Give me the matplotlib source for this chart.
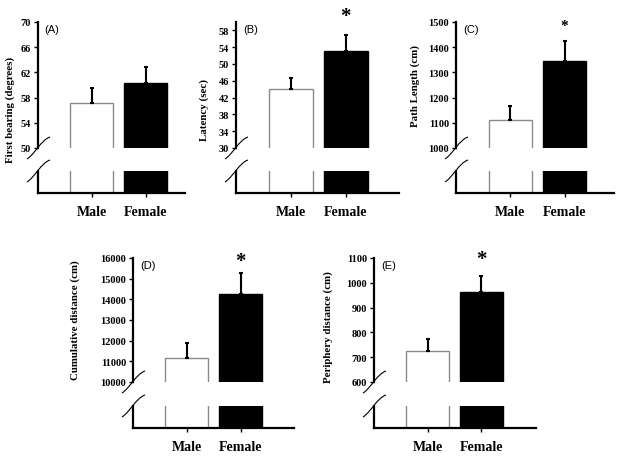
import matplotlib
matplotlib.use("Agg")
import matplotlib.pyplot as plt
from matplotlib.path import Path
from matplotlib.patches import PathPatch
from matplotlib.transforms import blended_transform_factory

W, H = 624, 460

groups = ["Male", "Female"]

first_bearing = [57.2, 60.3]
first_bearing_err = [2.3, 2.6]
latency = [44.0, 53.2]
latency_err = [2.7, 3.8]
path_length = [1112, 1347]
path_length_err = [54, 77]
cumulative = [11180, 14240]
cumulative_err = [700, 1030]
periphery = [724, 962]
periphery_err = [48, 64]

ylabels = ["First bearing (degrees)", "Latency (sec)", "Path Length (cm)",
           "Cumulative distance (cm)", "Periphery distance (cm)"]
panel_tags = ["(A)", "(B)", "(C)", "(D)", "(E)"]
yticks = [list(range(50, 71, 4)), list(range(30, 59, 4)), list(range(1000, 1501, 100)),
          list(range(10000, 16001, 1000)), list(range(600, 1101, 100))]
ylims = [(50, 70), (30, 60), (1000, 1500), (10000, 16000), (600, 1100)]
stars = [False, True, True, True, True]

SERIF = "Liberation Serif"
SANS = "Liberation Sans"

# layout in image pixels: left, right, upper top, upper bottom, lower top, lower bottom, xmax,
# ylabel x, ylabel y, star y, star size
layout = [
    (38, 185, 23, 149, 172, 194, 1.73, 10, 110, None, 0),
    (236, 399, 23, 149, 172, 194, 1.97, 204, 110, 17, 15),
    (456, 614, 23, 149, 172, 194, 1.91, 415, 86, 26, 11),
    (133, 294, 259, 383, 407, 429, 1.99, 75, 320, 262, 15),
    (374, 536, 259, 383, 407, 429, 2.02, 328, 327, 260, 15),
]

values = [first_bearing, latency, path_length, cumulative, periphery]
errors = [first_bearing_err, latency_err, path_length_err, cumulative_err, periphery_err]

fig = plt.figure(figsize=(W / 100, H / 100), dpi=100)


def px_axes(left, right, top, bottom):
    return fig.add_axes([left / W, 1 - bottom / H, (right - left) / W, (bottom - top) / H])


def break_mark(cx, cy):
    pts = [(cx - 11, cy + 11), (cx - 3, cy + 6), (cx + 3, cy - 8), (cx + 12, cy - 11)]
    verts = [(x / W, 1 - y / H) for x, y in pts]
    path = Path(verts, [Path.MOVETO, Path.CURVE4, Path.CURVE4, Path.CURVE4])
    fig.add_artist(PathPatch(path, transform=fig.transFigure, fill=False,
                             edgecolor="black", lw=0.8))


x = [0, 1]
colors = ["white", "black"]
edges = ["#8a8a8a", "black"]

for i in range(5):
    left, right, top, bottom, ltop, lbottom, xmax, ylx, yly, sty, stsize = layout[i]
    vals, errs = values[i], errors[i]

    # upper part of the broken axis
    ax = px_axes(left, right, top, bottom)
    ax.bar(x, vals, width=0.8, color=colors, edgecolor=edges, linewidth=1.0, zorder=2)
    ax.errorbar(x, vals, yerr=[[0, 0], errs], fmt="none", ecolor="black",
                elinewidth=1.5, capsize=1.5, capthick=1.5, zorder=3)
    ax.set_xlim(-1.0, xmax)
    ax.set_ylim(*ylims[i])
    ax.set_yticks(yticks[i])
    ax.set_xticks([])
    for s in ["top", "right", "bottom"]:
        ax.spines[s].set_visible(False)
    ax.spines["left"].set_linewidth(1.6)
    ax.tick_params(axis="y", direction="out", length=3, width=1, pad=2)
    for lab in ax.get_yticklabels():
        lab.set_fontfamily(SERIF)
        lab.set_fontweight("bold")
        lab.set_fontsize(7.5)
    ax.text(0.045, 0.985, panel_tags[i], transform=ax.transAxes, ha="left", va="top",
            fontfamily=SANS, fontsize=8)
    if stars[i]:
        tr = blended_transform_factory(ax.transData, fig.transFigure)
        ax.text(1, 1 - sty / H, "*", transform=tr, ha="center", va="center",
                fontfamily=SERIF, fontweight="bold", fontsize=stsize, clip_on=False)

    # lower stub of the broken axis
    lo = px_axes(left, right, ltop, lbottom)
    lo.bar(x, vals, width=0.8, color=colors, edgecolor=edges, linewidth=1.0, zorder=2)
    lo.set_xlim(-1.0, xmax)
    lo.set_ylim(0, ylims[i][0])
    lo.set_yticks([])
    lo.set_xticks(x)
    lo.set_xticklabels(groups)
    for s in ["top", "right"]:
        lo.spines[s].set_visible(False)
    lo.spines["left"].set_linewidth(1.6)
    lo.spines["bottom"].set_linewidth(1.6)
    lo.tick_params(axis="x", direction="out", length=3, width=1, pad=6)
    for lab in lo.get_xticklabels():
        lab.set_fontfamily(SERIF)
        lab.set_fontweight("bold")
        lab.set_fontsize(10)

    break_mark(left, bottom)
    break_mark(left, ltop)

    fig.text(ylx / W, 1 - yly / H, ylabels[i], rotation=90, ha="center", va="center",
             fontfamily=SERIF, fontweight="bold", fontsize=7.8)

fig.savefig("out.png", dpi=100)
